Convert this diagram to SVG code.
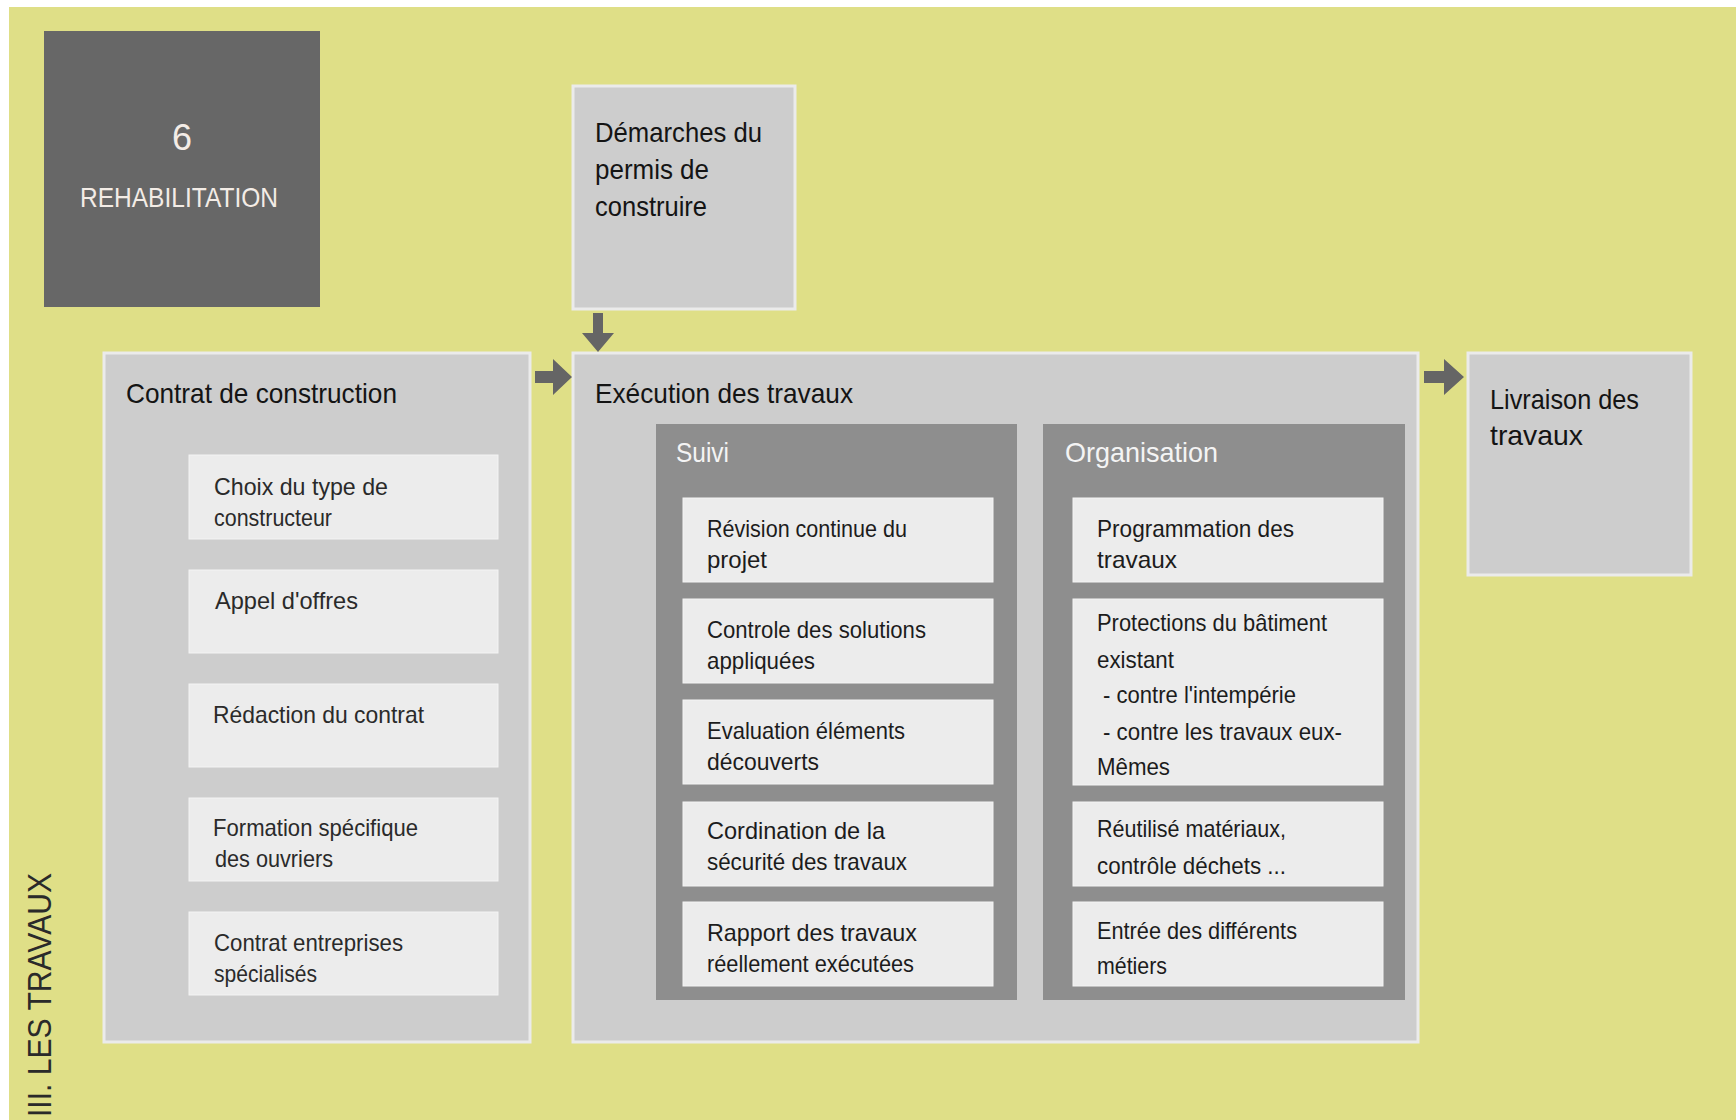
<svg xmlns="http://www.w3.org/2000/svg" width="1736" height="1120" viewBox="0 0 1736 1120">
<style>
text{font-family:"Liberation Sans",Arial,sans-serif;}
.outer{fill:#cdcdcd;stroke:#ebebeb;stroke-width:3;}
.panel{fill:#8e8e8e;}
.item{fill:#ececec;stroke:#f4f4f4;stroke-width:1;}
.title{font-size:28px;fill:#141414;}
.item-t{font-size:24px;fill:#1c1c1c;}
.item-c{font-size:24px;fill:#2a2a2a;}
.ptitle{font-size:28px;fill:#f4f4f4;}
.arrow{fill:#656565;}
</style>
<rect x="0" y="0" width="1736" height="1120" fill="#ffffff"/>
<rect x="9" y="7" width="1727" height="1113" fill="#dfdf87"/>

<g id="rehabilitation">
<rect x="44" y="31" width="276" height="276" fill="#676767"/>
<text x="182" y="150" text-anchor="middle" style="font-size:36px;fill:#f3ece6">6</text>
<text x="80" y="207" textLength="198" lengthAdjust="spacingAndGlyphs" style="font-size:28px;fill:#f3ece6">REHABILITATION</text>
</g>

<g id="section-label">
<text transform="translate(51,1117) rotate(-90)" textLength="244" lengthAdjust="spacingAndGlyphs" style="font-size:34px;fill:#2a2a2a">III. LES TRAVAUX</text>
</g>

<g id="demarches">
<rect class="outer" x="573" y="86" width="222" height="223"/>
<text class="title" x="595" y="142" textLength="167" lengthAdjust="spacingAndGlyphs">Démarches du</text>
<text class="title" x="595" y="179" textLength="114" lengthAdjust="spacingAndGlyphs">permis de</text>
<text class="title" x="595" y="216" textLength="112" lengthAdjust="spacingAndGlyphs">construire</text>
</g>

<g id="contrat">
<rect class="outer" x="104" y="353" width="426" height="689"/>
<text class="title" x="126" y="403" textLength="271" lengthAdjust="spacingAndGlyphs">Contrat de construction</text>
<g id="contrat-1"><rect class="item" x="189" y="455" width="309" height="84"/>
<text class="item-c" x="214" y="495" textLength="174" lengthAdjust="spacingAndGlyphs">Choix du type de</text>
<text class="item-c" x="214" y="526" textLength="118" lengthAdjust="spacingAndGlyphs">constructeur</text></g>
<g id="contrat-2"><rect class="item" x="189" y="570" width="309" height="83"/>
<text class="item-c" x="215" y="609" textLength="143" lengthAdjust="spacingAndGlyphs">Appel d'offres</text></g>
<g id="contrat-3"><rect class="item" x="189" y="684" width="309" height="83"/>
<text class="item-c" x="213" y="723" textLength="211" lengthAdjust="spacingAndGlyphs">Rédaction du contrat</text></g>
<g id="contrat-4"><rect class="item" x="189" y="798" width="309" height="83"/>
<text class="item-c" x="213" y="836" textLength="205" lengthAdjust="spacingAndGlyphs">Formation spécifique</text>
<text class="item-c" x="215" y="867" textLength="118" lengthAdjust="spacingAndGlyphs">des ouvriers</text></g>
<g id="contrat-5"><rect class="item" x="189" y="912" width="309" height="83"/>
<text class="item-c" x="214" y="951" textLength="189" lengthAdjust="spacingAndGlyphs">Contrat entreprises</text>
<text class="item-c" x="214" y="982" textLength="103" lengthAdjust="spacingAndGlyphs">spécialisés</text></g>
</g>

<g id="execution">
<rect class="outer" x="573" y="353" width="845" height="689"/>
<text class="title" x="595" y="403" textLength="258" lengthAdjust="spacingAndGlyphs">Exécution des travaux</text>

<g id="suivi">
<rect class="panel" x="656" y="424" width="361" height="576"/>
<text class="ptitle" x="676" y="462" textLength="53" lengthAdjust="spacingAndGlyphs">Suivi</text>
<g id="suivi-1"><rect class="item" x="683" y="498" width="310" height="84"/>
<text class="item-t" x="707" y="537" textLength="200" lengthAdjust="spacingAndGlyphs">Révision continue du</text>
<text class="item-t" x="707" y="568" textLength="60" lengthAdjust="spacingAndGlyphs">projet</text></g>
<g id="suivi-2"><rect class="item" x="683" y="599" width="310" height="84"/>
<text class="item-t" x="707" y="638" textLength="219" lengthAdjust="spacingAndGlyphs">Controle des solutions</text>
<text class="item-t" x="707" y="669" textLength="108" lengthAdjust="spacingAndGlyphs">appliquées</text></g>
<g id="suivi-3"><rect class="item" x="683" y="700" width="310" height="84"/>
<text class="item-t" x="707" y="739" textLength="198" lengthAdjust="spacingAndGlyphs">Evaluation éléments</text>
<text class="item-t" x="707" y="770" textLength="112" lengthAdjust="spacingAndGlyphs">découverts</text></g>
<g id="suivi-4"><rect class="item" x="683" y="802" width="310" height="84"/>
<text class="item-t" x="707" y="839" textLength="178" lengthAdjust="spacingAndGlyphs">Cordination de la</text>
<text class="item-t" x="707" y="870" textLength="200" lengthAdjust="spacingAndGlyphs">sécurité des travaux</text></g>
<g id="suivi-5"><rect class="item" x="683" y="902" width="310" height="84"/>
<text class="item-t" x="707" y="941" textLength="210" lengthAdjust="spacingAndGlyphs">Rapport des travaux</text>
<text class="item-t" x="707" y="972" textLength="207" lengthAdjust="spacingAndGlyphs">réellement exécutées</text></g>
</g>

<g id="organisation">
<rect class="panel" x="1043" y="424" width="362" height="576"/>
<text class="ptitle" x="1065" y="462" textLength="153" lengthAdjust="spacingAndGlyphs">Organisation</text>
<g id="org-1"><rect class="item" x="1073" y="498" width="310" height="84"/>
<text class="item-t" x="1097" y="537" textLength="197" lengthAdjust="spacingAndGlyphs">Programmation des</text>
<text class="item-t" x="1097" y="568" textLength="80" lengthAdjust="spacingAndGlyphs">travaux</text></g>
<g id="org-2"><rect class="item" x="1073" y="599" width="310" height="186"/>
<text class="item-t" x="1097" y="631" textLength="230" lengthAdjust="spacingAndGlyphs">Protections du bâtiment</text>
<text class="item-t" x="1097" y="668" textLength="77" lengthAdjust="spacingAndGlyphs">existant</text>
<text class="item-t" x="1103" y="703" textLength="193" lengthAdjust="spacingAndGlyphs">- contre l'intempérie</text>
<text class="item-t" x="1103" y="740" textLength="239" lengthAdjust="spacingAndGlyphs">- contre les travaux eux-</text>
<text class="item-t" x="1097" y="775" textLength="73" lengthAdjust="spacingAndGlyphs">Mêmes</text></g>
<g id="org-3"><rect class="item" x="1073" y="802" width="310" height="84"/>
<text class="item-t" x="1097" y="837" textLength="189" lengthAdjust="spacingAndGlyphs">Réutilisé matériaux,</text>
<text class="item-t" x="1097" y="874" textLength="189" lengthAdjust="spacingAndGlyphs">contrôle déchets ...</text></g>
<g id="org-4"><rect class="item" x="1073" y="902" width="310" height="84"/>
<text class="item-t" x="1097" y="939" textLength="200" lengthAdjust="spacingAndGlyphs">Entrée des différents</text>
<text class="item-t" x="1097" y="974" textLength="70" lengthAdjust="spacingAndGlyphs">métiers</text></g>
</g>
</g>

<g id="livraison">
<rect class="outer" x="1468" y="353" width="223" height="222"/>
<text class="title" x="1490" y="409" textLength="149" lengthAdjust="spacingAndGlyphs">Livraison des</text>
<text class="title" x="1490" y="445" textLength="93" lengthAdjust="spacingAndGlyphs">travaux</text>
</g>

<g id="connectors">
<polygon class="arrow" points="593,313 603,313 603,333 614,333 598,352 582,333 593,333"/>
<polygon class="arrow" points="535,371 553,371 553,359 572,377 553,395 553,383 535,383"/>
<polygon class="arrow" points="1424,371 1444,371 1444,359 1464,377 1444,395 1444,383 1424,383"/>
</g>
</svg>
